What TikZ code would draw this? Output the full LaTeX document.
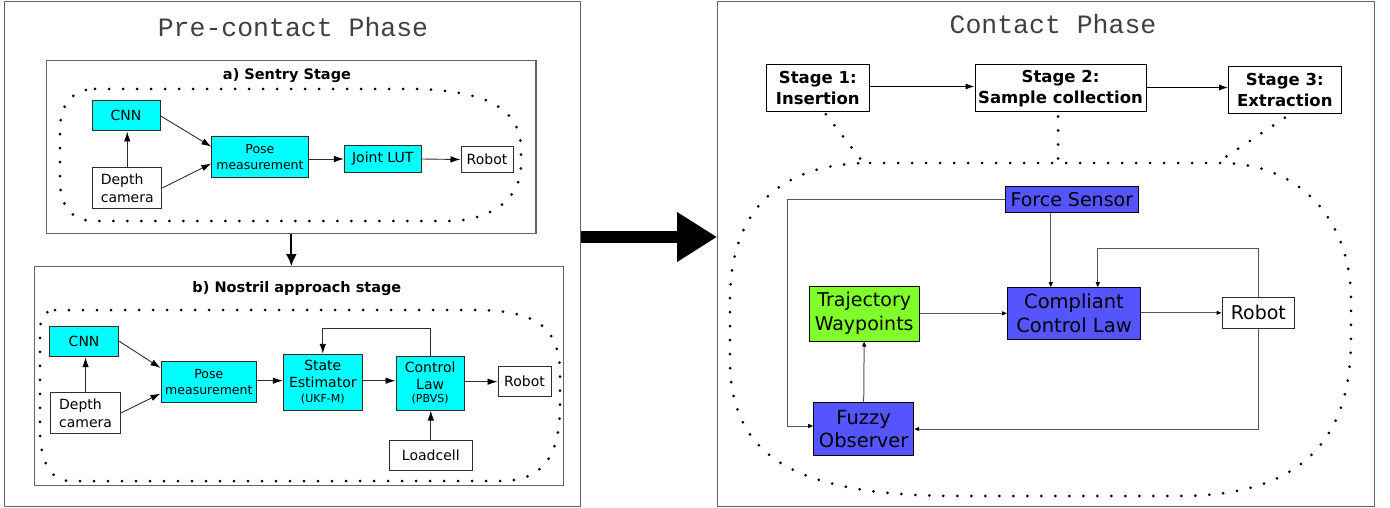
\documentclass[tikz,border=0pt]{standalone}
\usepackage{fontspec}
\setmainfont{DejaVu Sans}
\newfontfamily\titlemono{Liberation Mono}
\usetikzlibrary{arrows.meta,calc}
\definecolor{boxcyan}{RGB}{0,255,255}
\definecolor{boxblue}{RGB}{85,85,255}
\definecolor{boxgreen}{RGB}{128,255,42}
\definecolor{framegray}{RGB}{100,100,100}
\definecolor{edgegray}{RGB}{45,45,45}
\definecolor{titlegray}{RGB}{64,64,64}
\definecolor{wiregray}{RGB}{85,85,85}
\newcommand\fsz[2]{\fontsize{#1}{#2}\selectfont}

\begin{document}
\begin{tikzpicture}[x=1pt,y=-1pt,
  frame/.style={draw=framegray, line width=1.2pt, inner sep=0pt},
  blk/.style={draw=edgegray, line width=1pt, inner sep=0pt, align=center},
  cyanbox/.style={blk, fill=boxcyan},
  whitebox/.style={blk, fill=white},
  bluebox/.style={blk, draw=black, fill=boxblue},
  greenbox/.style={blk, draw=black, fill=boxgreen},
  stagebox/.style={blk, draw=black, fill=white, font=\bfseries\fsz{16.5}{21}},
  phasetitle/.style={font=\titlemono\fsz{26.5}{30}, text=titlegray, inner sep=0pt},
  stagetitle/.style={font=\bfseries\fsz{14.5}{17}, inner sep=0pt, anchor=base},
  larr/.style={draw=edgegray, line width=0.9pt, -{Latex[length=10pt,width=6.5pt,color=black]}},
  rarr/.style={draw=wiregray, line width=1pt, -{Triangle[length=5pt,width=4pt,color=black]}},
  sarr/.style={draw=black, line width=1pt, -{Latex[length=9pt,width=6pt]}},
  dotloop/.style={line width=3pt, line cap=round, dash pattern=on 0pt off 14pt},
]
\useasboundingbox (0,0) rectangle (1390,508);

% ---------------- Pre-contact phase ----------------
\node[frame, minimum width=576pt, minimum height=505pt] (pre) at (292.7,254.2) {};
\node[phasetitle] (preT) at (293,27) {Pre-contact Phase};

% a) Sentry stage
\node[frame, minimum width=489.3pt, minimum height=172.6pt] (sa) at (291.35,147) {};
\node[stagetitle] (saT) at (287,79.5) {a) Sentry Stage};
\draw[dotloop] (95,89) -- (420,89) .. controls (490,92) and (521,110) .. (521,150)
  -- (521,165) .. controls (521,200) and (490,220) .. (450,221) -- (95,221)
  .. controls (70,221) and (60,205) .. (60,180) -- (60,130)
  .. controls (60,105) and (72,89) .. (95,89) -- cycle;

\node[cyanbox, minimum width=68pt, minimum height=30.3pt, font=\fsz{14}{17}] (cnnA) at (126,115.85) {CNN};
\node[whitebox, align=left, minimum width=69.3pt, minimum height=40.6pt, font=\fsz{14}{18}] (camA) at (127.25,188) {Depth\\camera};
\node[cyanbox, minimum width=96.1pt, minimum height=41pt, font=\fsz{12.5}{15.5}] (poseA) at (259.95,157.2) {Pose\\measurement};
\node[cyanbox, minimum width=76.6pt, minimum height=26.6pt, font=\fsz{14}{17}] (lutA) at (382.7,159) {Joint LUT};
\node[whitebox, minimum width=52pt, minimum height=25.6pt, font=\fsz{14}{17}] (robA) at (487,159.5) {Robot};

\draw[larr] (cnnA.east) -- ($(poseA.north west)!0.25!(poseA.south west)$);
\draw[larr] (camA.east) -- ($(poseA.north west)!0.65!(poseA.south west)$);
\draw[larr] (camA.north) -- (camA.north |- cnnA.south);
\draw[larr] (poseA.east |- lutA.west) -- (lutA.west);
\draw[larr] (lutA.east) -- (robA.west);

% b) Nostril approach stage
\node[frame, minimum width=529.4pt, minimum height=219.1pt] (sb) at (299.1,376.25) {};
\node[stagetitle] (sbT) at (296.9,292.3) {b) Nostril approach stage};
\draw[line width=2pt, -{Latex[length=12pt,width=11pt]}] (sa.south) -- (sa.south |- sb.north);
\draw[dotloop] (55,310) -- (475,310) .. controls (540,310) and (560,330) .. (560,375)
  -- (560,405) .. controls (560,460) and (540,481) .. (500,481) -- (70,481)
  .. controls (50,481) and (40,460) .. (40,430) -- (40,330)
  .. controls (40,318) and (45,310) .. (55,310) -- cycle;

\node[cyanbox, minimum width=69.6pt, minimum height=30.7pt, font=\fsz{14}{17}] (cnnB) at (84.1,341.35) {CNN};
\node[whitebox, align=left, minimum width=69.7pt, minimum height=40.6pt, font=\fsz{14}{18}] (camB) at (85.55,413) {Depth\\camera};
\node[cyanbox, minimum width=95.7pt, minimum height=41pt, font=\fsz{12.5}{15.5}] (poseB) at (208.85,382.2) {Pose\\measurement};
\node[cyanbox, minimum width=79pt, minimum height=55.7pt, font=\fsz{14}{17}] (stateB) at (322.8,382.15)
  {State\\Estimator\\[-2pt]{\fsz{11}{12.5}(UKF-M)}};
\node[cyanbox, minimum width=68.3pt, minimum height=53.3pt, font=\fsz{14}{17}] (ctrlB) at (430.15,383.35)
  {Control\\Law\\[-4pt]{\fsz{11}{12.5}(PBVS)}};
\node[whitebox, minimum width=53pt, minimum height=30pt, font=\fsz{14}{17}] (robB) at (524.5,381.7) {Robot};
\node[whitebox, minimum width=82.4pt, minimum height=30pt, font=\fsz{14}{17}] (loadB) at (430.8,455.7) {Loadcell};

\draw[larr] (cnnB.east) -- ($(poseB.north west)!0.16!(poseB.south west)$);
\draw[larr] (camB.east) -- ($(poseB.north west)!0.77!(poseB.south west)$);
\draw[larr] (camB.north) -- (camB.north |- cnnB.south);
\draw[larr] (poseB.east |- 0,380.7) -- (stateB.west |- 0,380.7);
\draw[larr] (stateB.east |- 0,380.7) -- (ctrlB.west |- 0,380.7);
\draw[larr] (ctrlB.east |- robB.west) -- (robB.west);
\draw[larr] (loadB.north) -- (loadB.north |- ctrlB.south);
\draw[larr] (ctrlB.north) -- ++(0,-27.7) -| (stateB.north);

% ---------------- Contact phase ----------------
\node[frame, minimum width=657pt, minimum height=505pt] (con) at (1046.2,254.2) {};
\node[phasetitle] (conT) at (1053,24.2) {Contact Phase};

% transition between the phases
\coordinate (arw) at (0,237);
\draw[line width=12.5pt, -{Triangle[length=40pt,width=47pt]}] (pre.east |- arw) -- (con.west |- arw);

\node[stagebox, minimum width=103.6pt, minimum height=46.7pt] (s1) at (817.8,88.35) {Stage 1:\\Insertion};
\node[stagebox, minimum width=171pt, minimum height=47pt] (s2) at (1060.5,88.5) {Stage 2:\\Sample collection};
\node[stagebox, minimum width=112.4pt, minimum height=46.6pt] (s3) at (1284.8,90) {Stage 3:\\Extraction};
\draw[sarr] (s1.east |- 0,86.5) -- (s2.west |- 0,86.5);
\draw[sarr] (s2.east |- 0,87.5) -- (s3.west |- 0,87.5);

% control loop shared by the three stages
\draw[dotloop] (870,163) -- (1220,163) .. controls (1300,163) and (1351,220) .. (1351,300)
  -- (1351,340) .. controls (1351,450) and (1290,496) .. (1180,496) -- (960,496)
  .. controls (800,496) and (730,460) .. (730,360) -- (730,300)
  .. controls (730,210) and (780,163) .. (870,163) -- cycle;
\coordinate (j1) at (862,161);
\coordinate (j2) at (1058,163);
\coordinate (j3) at (1218,162);
\draw[dotloop] ([xshift=8pt,yshift=-2pt]s1.south) -- (j1);
\draw[dotloop] ([xshift=-2.5pt,yshift=-4pt]s2.south) -- (j2);
\draw[dotloop] ([yshift=-4pt]s3.south) -- (j3);

\node[bluebox, minimum width=133pt, minimum height=25.6pt, font=\fsz{19}{23}] (fs) at (1071.8,199.5) {Force Sensor};
\node[bluebox, minimum width=133pt, minimum height=51.3pt, font=\fsz{19.5}{23.5}] (ccl) at (1074,313.35) {Compliant\\Control Law};
\node[whitebox, minimum width=72.7pt, minimum height=30.3pt, font=\fsz{19}{23}] (robR) at (1258.35,312.85) {Robot};
\node[greenbox, minimum width=110.3pt, minimum height=55pt, font=\fsz{19}{23.5}] (traj) at (864.15,313.5) {Trajectory\\Waypoints};
\node[bluebox, minimum width=100pt, minimum height=52.6pt, font=\fsz{19.5}{23.5}] (fuzzy) at (863.7,429) {Fuzzy\\Observer};

\coordinate (lft) at (787,426);
\draw[rarr] ([xshift=-21pt]fs.south) -- ([xshift=-21pt]fs.south |- ccl.north);
\draw[rarr] (fs.west) -| (lft) -- (lft -| fuzzy.west);
\draw[rarr] (traj.east |- ccl.west) -- (ccl.west);
\draw[rarr] (ccl.east |- robR.west) -- (robR.west);
\draw[rarr] (robR.north) -- ++(0,-48.4) -| ([xshift=23.8pt]ccl.north);
\draw[rarr] (robR.south) |- (fuzzy.east);
\draw[rarr] (fuzzy.north) -- (traj.south);
\end{tikzpicture}
\end{document}
